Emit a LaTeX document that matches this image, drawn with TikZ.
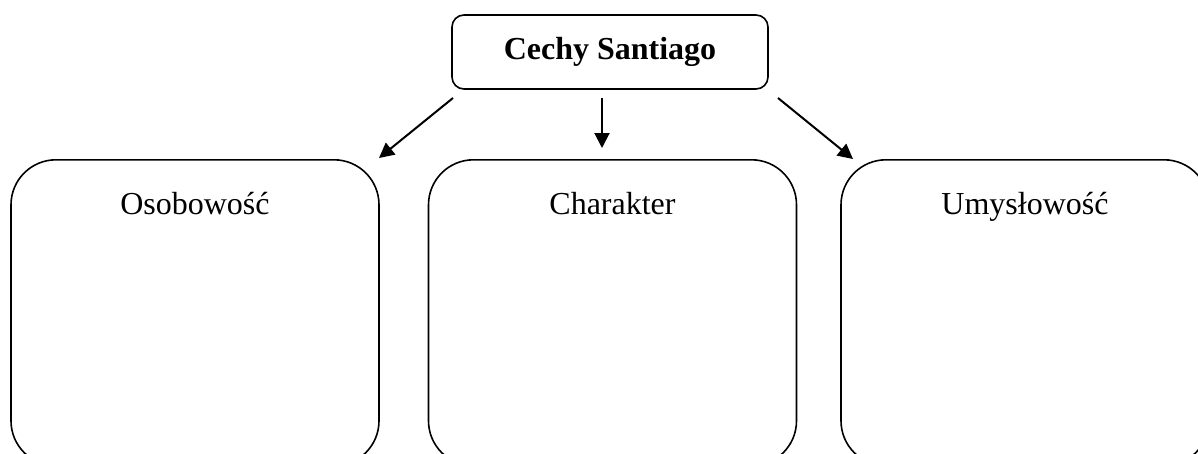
\documentclass[tikz,border=0pt]{standalone}
\usepackage{fontspec}
\setmainfont{Liberation Serif}
\usetikzlibrary{arrows.meta}
\begin{document}
\begin{tikzpicture}[x=1pt,y=1pt,
  topbox/.style={draw, line width=1.6pt, rounded corners=12pt, minimum width=316pt, minimum height=74pt, inner sep=0pt, font=\fontsize{32}{38}\selectfont\bfseries},
  catbox/.style={draw, line width=1.6pt, rounded corners=45pt, minimum width=368pt, inner sep=0pt, text height=55pt, text depth=251pt, anchor=north, font=\fontsize{32}{38}\selectfont},
  arr/.style={line width=2pt, -{Triangle[length=15pt,width=15pt]}}]
\useasboundingbox (0,0) rectangle (1198,-453);
\clip (0,0) rectangle (1198,-453);
\fill[white] (0,0) rectangle (1198,-453);
\node[topbox] (top) at (610,-52) {Cechy Santiago};
\node[catbox] (b1) at (195,-159) {Osobowość};
\node[catbox] (b2) at (612.5,-159) {Charakter};
\node[catbox] (b3) at (1025,-159) {Umysłowość};
\coordinate (a1s) at (453,-98);
\coordinate (a1e) at (379,-158);
\coordinate (a2s) at (602,-98);
\coordinate (a2e) at (602,-148);
\coordinate (a3s) at (778,-98);
\coordinate (a3e) at (853,-159);
\draw[arr] (a1s) -- (a1e);
\draw[arr] (a2s) -- (a2e);
\draw[arr] (a3s) -- (a3e);
\end{tikzpicture}
\end{document}
